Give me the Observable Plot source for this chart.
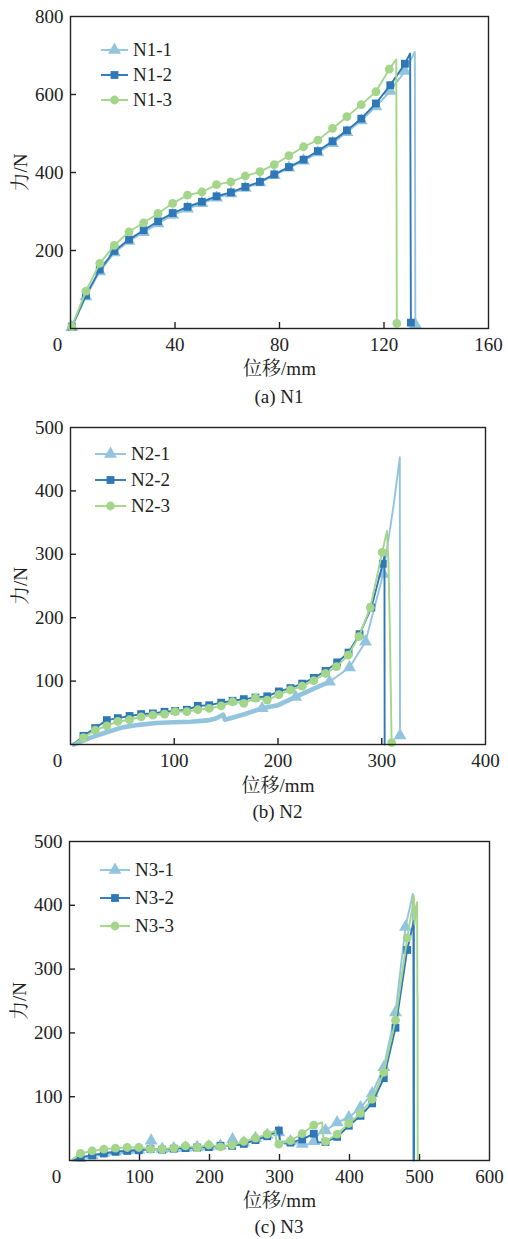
<!DOCTYPE html>
<html><head><meta charset="utf-8">
<script src="https://cdn.jsdelivr.net/npm/d3@7"></script>
<script src="https://cdn.jsdelivr.net/npm/@observablehq/plot@0.6"></script>
<style>
body{margin:0;background:#fff;font-family:"Liberation Serif","Times New Roman","Noto Serif CJK SC","Noto Sans CJK SC",serif;color:#222;}
#root{position:relative;width:508px;height:1239px;overflow:hidden;}
.panel{position:absolute;left:0;width:508px;}
.cap{position:absolute;text-align:center;font-size:19px;line-height:20px;color:#222;}
.legend{position:absolute;font-size:19px;color:#222;}
.legend .row{display:flex;align-items:center;}
.legend svg{overflow:visible;}
</style></head>
<body><div id="root"></div>
<script>
// ---------- data ----------
const xTicks1 = [0, 40, 80, 120, 160];
const yTicks1 = [200, 400, 600, 800];
const xTicks2 = [0, 100, 200, 300, 400];
const yTicks2 = [100, 200, 300, 400, 500];
const xTicks3 = [0, 100, 200, 300, 400, 500, 600];
const yTicks3 = [100, 200, 300, 400, 500];

const names1 = ["N1-1", "N1-2", "N1-3"];
const names2 = ["N2-1", "N2-2", "N2-3"];
const names3 = ["N3-1", "N3-2", "N3-3"];
const captions = ["(a) N1", "(b) N2", "(c) N3"];
const xLabel = "位移/mm";
const yLabel = "力/N";

// panel (a): marker points, plus extra line-only points
const N1_1_x = [0.5, 5.9, 11.2, 16.8, 22.4, 28.0, 33.5, 39.1, 44.8, 50.3, 55.9, 61.4, 66.9, 72.5, 78.0, 83.6, 89.2, 94.7, 100.3, 105.8, 111.3, 116.9, 122.4, 128.0, 132.0];
const N1_1_y = [3, 82, 146, 195, 224, 247, 269, 291, 307, 321, 335, 346, 360, 374, 393, 412, 430, 451, 475, 503, 533, 569, 609, 660, 10];
const N1_1_extra = [[131.8, 709]];
const N1_2_x = [0.5, 5.9, 11.2, 16.8, 22.4, 28.0, 33.5, 39.1, 44.8, 50.3, 55.9, 61.4, 66.9, 72.5, 78.0, 83.6, 89.2, 94.7, 100.3, 105.8, 111.3, 116.9, 122.4, 128.0, 130.3];
const N1_2_y = [5, 85, 151, 199, 228, 252, 275, 296, 312, 325, 339, 349, 363, 376, 395, 414, 433, 455, 480, 508, 538, 577, 624, 679, 15];
const N1_2_extra = [[130.0, 705]];
const N1_3_x = [0.5, 5.9, 11.2, 16.8, 22.4, 28.0, 33.5, 39.1, 44.8, 50.3, 55.9, 61.4, 66.9, 72.5, 78.0, 83.6, 89.2, 94.7, 100.3, 105.8, 111.3, 116.9, 122.0, 124.9];
const N1_3_y = [5, 96, 167, 213, 248, 271, 295, 321, 342, 350, 369, 376, 391, 402, 420, 443, 466, 483, 513, 543, 574, 607, 665, 13];
const N1_3_extra = [[124.7, 690]];

// panel (b)
const N2_1_x = [184.7, 217, 249.6, 268.9, 284.3, 301.4, 317.6];
const N2_1_y = [57, 75, 99, 121.6, 162, 269, 14];
const N2_1_extra = [[3, 0], [18, 10], [34, 19], [50, 27], [66, 31], [83, 34], [99, 35], [116, 36], [132, 38], [140, 41], [147, 47], [149, 39], [166, 47], [200, 62], [233, 87], [311.6, 379], [317.4, 453]];
const N2_2_x = [12.5, 23.8, 35, 45.6, 56.9, 68.1, 79.4, 90.6, 100.9, 112.1, 122.7, 133.7, 145.3, 156.2, 167, 178.3, 189.6, 200.8, 212, 223.3, 234.5, 245.8, 257, 268, 278.6, 290, 301];
const N2_2_y = [13.7, 26, 38.5, 41.6, 45, 48, 49, 51.6, 53, 54.8, 61, 62, 66, 69, 71.6, 74, 76, 83.7, 89, 96, 105, 116, 129.5, 145, 174, 216, 285];
const N2_2_extra = [[3, 0], [302.6, 298], [302.8, 0]];
const N2_3_x = [12.5, 23.8, 35, 45.6, 56.9, 68.1, 79.4, 90.6, 100.9, 112.1, 122.7, 133.7, 145.3, 156.2, 167, 178.3, 189.6, 200.8, 212, 223.3, 234.5, 245.8, 256.4, 267.6, 277.9, 289, 300.4, 309.5];
const N2_3_y = [11, 22.7, 29.5, 36.3, 39, 43.7, 46.4, 48, 52, 52, 54.8, 56.9, 61, 67.4, 65, 73, 70, 78.5, 86, 92, 100.6, 112, 122.7, 141, 170, 216, 303, 3];
const N2_3_extra = [[3, 0], [305, 337], [306.5, 285], [308, 163]];

// panel (c)
const N3_1_x = [15.7, 32.4, 49, 65.7, 82.4, 99, 116.7, 132.4, 149, 165.7, 182.4, 199, 215.7, 232.9, 249, 265.7, 282.4, 299, 315.7, 332.4, 349, 365.7, 382.4, 399, 415.7, 432.4, 449, 465.7, 480];
const N3_1_y = [4, 8, 12, 14, 16, 17, 31, 18, 19, 20, 21, 22, 23, 33, 28, 35, 40, 44, 30, 26, 30, 47, 59.6, 67.5, 83, 105, 146, 232, 366];
const N3_1_extra = [[5, 1], [113, 18], [120, 17], [229, 24], [236, 25], [301, 30], [340, 25], [362, 52], [490.5, 418], [490.8, 0]];
const N3_2_x = [15.7, 32.4, 49, 65.7, 82.4, 99, 115.7, 132.4, 149, 165.7, 182.4, 199, 215.7, 232.4, 249, 265.7, 282.4, 299, 315.7, 332.4, 349, 365.7, 382.4, 399, 415.7, 432.4, 449, 465.7, 482.4];
const N3_2_y = [5, 8, 11, 13.6, 15, 16, 17.8, 17, 18.5, 19.4, 20.4, 21, 23, 23, 26, 32, 38, 47, 28, 33, 42, 29, 37, 54.5, 70, 89.5, 129, 208, 330];
const N3_2_extra = [[5, 0], [301, 27], [352, 41], [355, 28], [491.9, 376], [492.2, 0]];
const N3_3_x = [15.7, 32.4, 49, 65.7, 82.4, 99, 115.7, 132.4, 149, 165.7, 182.4, 199, 215.7, 232.4, 249, 265.7, 282.4, 299, 315.7, 332.4, 349, 365.7, 382.4, 399, 415.7, 432.4, 449, 465.7, 482.4];
const N3_3_y = [11, 15, 17.8, 19.4, 20.4, 20.4, 17.8, 17.8, 19.4, 23, 20.4, 24.6, 21.5, 24.6, 29.8, 35, 41.3, 25.6, 31, 42, 55.6, 30, 41.4, 58, 73.8, 96, 138, 220, 349];
const N3_3_extra = [[4, 2], [294, 46.6], [296, 25], [361, 59.6], [363, 30], [489.5, 395], [491.9, 415], [493, 370], [495, 398], [496.5, 405], [497, 262], [497.2, 258], [497.4, 0]];

// ---------- styling ----------
const colors = ["#93c4de", "#2e78b7", "#a3d68b"];
const symbols = ["triangle", "square", "circle"];
const radii = [4.8, 4.4, 4.4];
const ink = "#222";
const font = '"Liberation Serif","Times New Roman","Noto Serif CJK SC","Noto Sans CJK SC",serif';

function build(x, y, extra) {
  const pts = x.map((v, i) => ({x: v, y: y[i]}));
  const ex = extra.map(([a, b]) => ({x: a, y: b}));
  const line = pts.concat(ex).sort((a, b) => a.x - b.x);
  return {pts, line};
}

function chart(cfg) {
  const fw = 508 - cfg.mL - cfg.mR;
  const marks = [
    Plot.axisX({ticks: cfg.xTicks.filter(d => d !== 0), tickSize: 0, tickPadding: 9, label: null, fontSize: 19}),
    Plot.axisX({ticks: [0], tickSize: 0, tickPadding: 9, dx: -13, label: null, fontSize: 19}),
    Plot.axisY({ticks: cfg.yTicks, tickSize: 0, tickPadding: 7, label: null, fontSize: 19}),
    Plot.tickX(cfg.xTicks.slice(1, -1), {x: d => d, insetTop: cfg.fh - 6, stroke: ink, strokeWidth: 1.4}),
    Plot.tickY(cfg.yTicks.slice(0, -1), {y: d => d, insetRight: fw - 6, stroke: ink, strokeWidth: 1.4})
  ];
  cfg.series.forEach((s, i) => {
    const {pts, line} = build(s[0], s[1], s[2]);
    if (cfg.band && cfg.band.series === i) {
      marks.push(Plot.line(line.filter(d => d.x <= cfg.band.xMax), {x: "x", y: "y", stroke: colors[i], strokeWidth: cfg.band.width}));
    }
    marks.push(Plot.line(line, {x: "x", y: "y", stroke: colors[i], strokeWidth: 1.9}));
    marks.push(Plot.dot(pts, {x: "x", y: "y", symbol: symbols[i], fill: colors[i], r: radii[i]}));
  });
  marks.push(Plot.frame({stroke: ink, strokeWidth: 1.4}));
  marks.push(Plot.text([xLabel], {frameAnchor: "bottom", lineAnchor: "middle", textAnchor: "middle", dy: cfg.labelDy, text: d => d, fontSize: 19, fill: ink}));
  marks.push(Plot.text([yLabel], {frameAnchor: "left", lineAnchor: "middle", textAnchor: "middle", dx: -50, rotate: -90, text: d => d, fontSize: 19, fill: ink}));
  return Plot.plot({
    width: 508, height: cfg.mT + cfg.fh + cfg.mB,
    marginLeft: cfg.mL, marginRight: cfg.mR, marginTop: cfg.mT, marginBottom: cfg.mB,
    x: {domain: [cfg.xTicks[0], cfg.xTicks[cfg.xTicks.length - 1]]},
    y: {domain: [0, cfg.yTicks[cfg.yTicks.length - 1]]},
    style: {fontFamily: font, fontSize: "19px", color: ink, background: "transparent", overflow: "visible"},
    marks
  });
}

function legend(root, names, pos) {
  const div = document.createElement("div");
  div.className = "legend";
  div.style.left = pos.left + "px";
  div.style.top = pos.top + "px";
  names.forEach((n, i) => {
    const row = document.createElement("div");
    row.className = "row";
    row.style.height = pos.row + "px";
    const w = pos.len;
    const svg = d3.create("svg").attr("width", w).attr("height", 14).style("margin-right", pos.gap + "px");
    svg.append("line").attr("x1", 0).attr("x2", w).attr("y1", 7).attr("y2", 7).attr("stroke", colors[i]).attr("stroke-width", 1.9);
    const sym = [d3.symbolTriangle, d3.symbolSquare, d3.symbolCircle][i];
    svg.append("path").attr("d", d3.symbol(sym, Math.PI * radii[i] * radii[i])()).attr("transform", `translate(${w / 2},7)`).attr("fill", colors[i]);
    row.appendChild(svg.node());
    const t = document.createElement("span");
    t.textContent = n;
    row.appendChild(t);
    div.appendChild(row);
  });
  root.appendChild(div);
}

const root = document.getElementById("root");
const panels = [
  {top: 0, mL: 70, mR: 20, mT: 16, fh: 312, mB: 55, labelDy: 40, xTicks: xTicks1, yTicks: yTicks1,
   series: [[N1_1_x, N1_1_y, N1_1_extra], [N1_2_x, N1_2_y, N1_2_extra], [N1_3_x, N1_3_y, N1_3_extra]],
   names: names1, leg: {left: 101, top: 37, row: 25, len: 27, gap: 5}, capY: 387},
  {top: 410, mL: 70, mR: 23, mT: 17, fh: 317, mB: 55, labelDy: 41, xTicks: xTicks2, yTicks: yTicks2,
   band: {series: 0, xMax: 255, width: 4.6},
   series: [[N2_1_x, N2_1_y, N2_1_extra], [N2_2_x, N2_2_y, N2_2_extra], [N2_3_x, N2_3_y, N2_3_extra]],
   names: names2, leg: {left: 95, top: 441, row: 26, len: 31, gap: 5}, capY: 802},
  {top: 825, mL: 69, mR: 19, mT: 16, fh: 319, mB: 55, labelDy: 40, xTicks: xTicks3, yTicks: yTicks3,
   series: [[N3_1_x, N3_1_y, N3_1_extra], [N3_2_x, N3_2_y, N3_2_extra], [N3_3_x, N3_3_y, N3_3_extra]],
   names: names3, leg: {left: 100, top: 856, row: 28, len: 30, gap: 5}, capY: 1217}
];
panels.forEach((p, k) => {
  const div = document.createElement("div");
  div.className = "panel";
  div.style.top = p.top + "px";
  div.appendChild(chart(p));
  root.appendChild(div);
  legend(root, p.names, p.leg);
  const cap = document.createElement("div");
  cap.className = "cap";
  cap.style.left = p.mL + "px";
  cap.style.width = (508 - p.mL - p.mR) + "px";
  cap.style.top = p.capY + "px";
  cap.textContent = captions[k];
  root.appendChild(cap);
});
</script>
</body></html>
